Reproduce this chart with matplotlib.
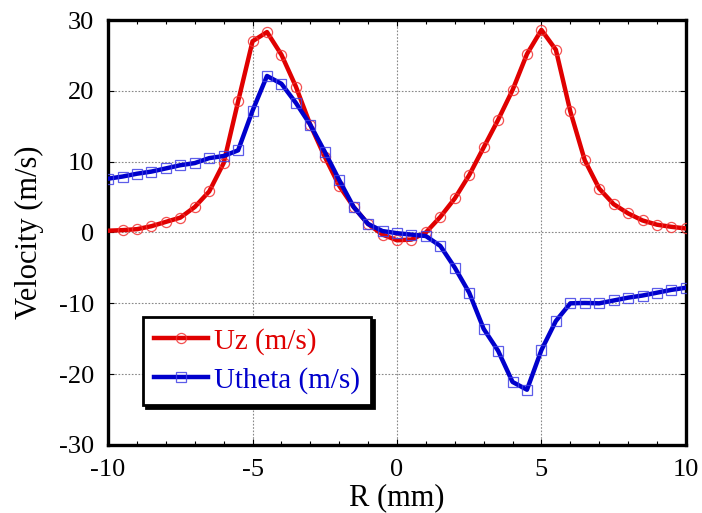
import matplotlib
matplotlib.use("Agg")
import matplotlib.pyplot as plt
from matplotlib.ticker import MultipleLocator
import numpy as np

r_uz = [-10, -9.5, -9, -8.5, -8, -7.5, -7, -6.5, -6, -5.5, -5, -4.5, -4, -3.5, -3, -2.5, -2, -1.5, -1, -0.5,
        0, 0.5, 1, 1.5, 2, 2.5, 3, 3.5, 4, 4.5, 5, 5.5, 6, 6.5, 7, 7.5, 8, 8.5, 9, 9.5, 10]
uz = [0.25, 0.33, 0.47, 0.89, 1.5, 2.1, 3.6, 5.8, 9.8, 18.5, 27.0, 28.3, 25.1, 20.6, 15.2, 10.7, 6.6, 3.6, 1.2, -0.3,
      -1.1, -1.0, 0.0, 2.2, 4.8, 8.1, 12.0, 15.9, 20.1, 25.2, 28.6, 25.8, 17.1, 10.2, 6.2, 4.0, 2.7, 1.7, 1.1, 0.8, 0.57]

r_ut = [-10, -9.5, -9, -8.5, -8, -7.5, -7, -6.5, -6, -5.5, -5, -4.5, -4, -3.5, -3, -2.5, -2, -1.5, -1, -0.5,
        0, 0.5, 1, 1.5, 2, 2.5, 3, 3.5, 4, 4.5, 5, 5.5, 6, 6.5, 7, 7.5, 8, 8.5, 9, 9.5, 10]
utheta = [7.6, 7.9, 8.3, 8.6, 9.05, 9.5, 9.8, 10.5, 10.8, 11.6, 17.2, 22.1, 21.0, 18.3, 15.2, 11.4, 7.4, 3.6, 1.2, 0.2,
          -0.1, -0.3, -0.5, -1.9, -4.95, -8.5, -13.6, -16.7, -21.1, -22.2, -16.6, -12.5, -10.0, -9.95, -10.0, -9.6,
          -9.2, -8.9, -8.5, -8.1, -7.8]

x_ticks = [-10, -5, 0, 5, 10]
y_ticks = [-30, -20, -10, 0, 10, 20, 30]

plt.rcParams['font.family'] = ['Liberation Serif', 'DejaVu Serif']
plt.rcParams['mathtext.fontset'] = 'stix'

fig = plt.figure(figsize=(7.02, 5.13), dpi=100)
ax = fig.add_axes([0.154, 0.1326, 0.823, 0.8284])

red = '#e00000'
blue = '#0000cc'

ax.plot(r_uz, uz, color=red, lw=3.2, marker='o', ms=7.3, mfc='none',
        mec=(0.95, 0.2, 0.2, 0.85), mew=0.9, markevery=list(range(1, len(r_uz))),
        label='Uz (m/s)', zorder=3)
ax.plot(r_ut, utheta, color=blue, lw=3.2, marker='s', ms=7.6, mfc='none',
        mec=(0.25, 0.25, 0.9, 0.85), mew=0.9, label='Utheta (m/s)', zorder=4)

ax.set_xlim(-10, 10)
ax.set_ylim(-30, 30)
ax.set_xticks(x_ticks)
ax.set_yticks(y_ticks)
ax.set_xticklabels([str(t) for t in x_ticks])
ax.set_yticklabels([str(t) for t in y_ticks])
ax.xaxis.set_minor_locator(MultipleLocator(1))

ax.grid(True, which='major', color='#888888', linestyle=(0, (1.5, 1.5)), lw=0.8)
ax.tick_params(which='both', direction='in', top=True, right=True)
ax.tick_params(which='major', length=4, width=0.8, labelsize=19, pad=10)
ax.tick_params(which='minor', length=3, width=0.8)
ax.tick_params(axis='y', which='minor', left=False, right=False)

for s in ax.spines.values():
    s.set_linewidth(2.4)
    s.set_color('black')

ax.set_xlabel('R (mm)', fontsize=22, labelpad=2)
ax.set_ylabel('Velocity (m/s)', fontsize=22, labelpad=11)

leg = ax.legend(loc='lower left', bbox_to_anchor=(0.06, 0.094), borderaxespad=0,
                fontsize=21, fancybox=False, shadow={'color': 'black', 'alpha': 1},
                edgecolor='black', framealpha=1, handlelength=1.85, handletextpad=0.2,
                labelspacing=0.42, borderpad=0.38, numpoints=1, labelcolor='linecolor')
leg.get_frame().set_linewidth(2.0)

fig.savefig('out.png', dpi=100)
